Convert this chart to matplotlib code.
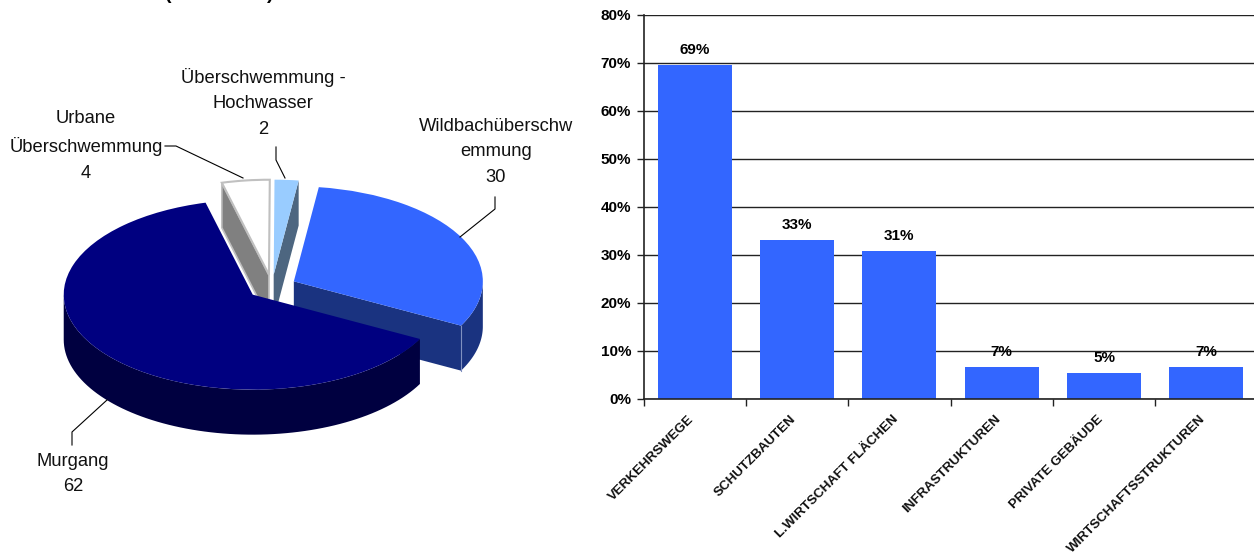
import numpy as np
import matplotlib
matplotlib.use('Agg')
import matplotlib.pyplot as plt
from matplotlib.patches import Wedge
from matplotlib.transforms import Affine2D

plt.rcParams['font.family'] = ['Liberation Sans', 'DejaVu Sans']

# pie data, drawn anticlockwise starting at the lower right
pie_labels = ['Wildbachüberschw\nemmung\n30', 'Überschwemmung -\nHochwasser\n2',
              'Urbane\nÜberschwemmung\n4', 'Murgang\n62']
pie_values = [30, 2, 4, 62]
pie_top = ['#3366FF', '#99CCFF', '#FFFFFF', '#000080']
pie_side = ['#1A3380', '#4D6680', '#808080', '#000040']

# bar data
bar_labels = ['VERKEHRSWEGE', 'SCHUTZBAUTEN', 'L.WIRTSCHAFT FLÄCHEN', 'INFRASTRUKTUREN',
              'PRIVATE GEBÄUDE', 'WIRTSCHAFTSSTRUKTUREN']
bar_values = [69.4, 33.0, 30.8, 6.6, 5.5, 6.6]
bar_text = ['69%', '33%', '31%', '7%', '5%', '7%']

W, H = 1254, 553
fig = plt.figure(figsize=(W / 100, H / 100), dpi=100)

# pie on a pixel canvas
ax = fig.add_axes([0, 0, 1, 1])
ax.set_xlim(0, W)
ax.set_ylim(H, 0)
ax.axis('off')

CX, CY = 272, 287
RX, RY = 189, 95
DEPTH = 45
EXPLODE = 0.13
START = -27.8


def rim(c, a):
    return c[0] + RX * np.cos(np.radians(a)), c[1] - RY * np.sin(np.radians(a))


def cut_face(c, a, color, edge='none'):
    x, y = rim(c, a)
    ax.fill([c[0], x, x, c[0]], [c[1], y, y + DEPTH, c[1] + DEPTH], color=color, ec=edge, lw=1.2)


def wall(c, a1, a2, color):
    t = np.linspace(a1, a2, 80)
    x, y = rim(c, t)
    ax.fill(np.r_[x, x[::-1]], np.r_[y, y[::-1] + DEPTH], color=color, lw=0)


def top(c, a1, a2, color, edge=None):
    tr = Affine2D().scale(RX, -RY).translate(c[0], c[1]) + ax.transData
    ax.add_patch(Wedge((0, 0), 1, a1, a2, transform=tr, fc=color,
                       ec=edge if edge else color, lw=1.5 if edge else 0))


angles = START + np.r_[0, np.cumsum(pie_values)] * 360 / sum(pie_values)
centers = []
for i in range(len(pie_values)):
    mid = (angles[i] + angles[i + 1]) / 2
    centers.append((CX + EXPLODE * RX * np.cos(np.radians(mid)), CY - EXPLODE * RY * np.sin(np.radians(mid))))

# back slices first, Murgang last because it sits in front
cut_face(centers[2], angles[3], pie_side[2], '#C0C0C0')
top(centers[2], angles[2], angles[3], pie_top[2], '#C0C0C0')
cut_face(centers[1], angles[1], pie_side[1])
top(centers[1], angles[1], angles[2], pie_top[1])
cut_face(centers[0], angles[0], pie_side[0])
wall(centers[0], angles[0], 0, pie_side[0])
x0, y0 = rim(centers[0], angles[0])
ax.plot([x0, x0], [y0, y0 + DEPTH], color='#8090C0', lw=0.8)
top(centers[0], angles[0], angles[1], pie_top[0])
wall(centers[3], 180, angles[4], pie_side[3])
top(centers[3], angles[3], angles[4], pie_top[3])

# leader lines
ax.plot([165, 176, 243], [146, 146, 178], color='k', lw=0.8)
ax.plot([276, 276, 285], [147, 160, 178], color='k', lw=0.8)
ax.plot([495, 495, 460], [197, 209, 237], color='k', lw=0.8)
ax.plot([72, 72, 107], [445, 432, 400], color='k', lw=0.8)

label_pos = [(496, 152), (263, 103), (86, 146), (73, 474)]
for s, (x, y) in zip(pie_labels, label_pos):
    ax.text(x, y, s, ha='center', va='center', fontsize=13.2, linespacing=1.68, color='#111111')

# what is left of the cut off title
ax.text(168, -1, '(', ha='center', va='baseline', fontsize=14, fontweight='bold')
ax.text(270, -1, ')', ha='center', va='baseline', fontsize=14, fontweight='bold')

# bars
L, R, T, B = 643.5, 1257.5, 14.5, 399
bx = fig.add_axes([L / W, 1 - B / H, (R - L) / W, (B - T) / H])
bx.patch.set_alpha(0)
pos = np.arange(len(bar_values))
bx.set_axisbelow(True)
bx.grid(axis='y', color='#222222', lw=1)
bx.bar(pos, bar_values, width=0.72, color='#3366FF')
bx.set_xlim(-0.5, 5.5)
bx.set_ylim(0, 80)
bx.set_yticks(range(0, 81, 10))
bx.set_yticklabels(['%d%%' % v for v in range(0, 81, 10)], fontsize=11, fontweight='bold')
bx.set_xticks(np.arange(-0.5, 6, 1), minor=False)
bx.set_xticklabels([])
bx.tick_params(axis='both', length=5, width=1, color='#222222', pad=4)
for s in ['top', 'right']:
    bx.spines[s].set_visible(False)
for s in ['left', 'bottom']:
    bx.spines[s].set_linewidth(1.2)
    bx.spines[s].set_color('#222222')
for p, v, t in zip(pos, bar_values, bar_text):
    bx.annotate(t, (p, v), xytext=(0, 8), textcoords='offset pixels', ha='center', va='bottom',
                fontsize=11, fontweight='bold')
for p, t in zip(pos, bar_labels):
    bx.annotate(t, (p, 0), xytext=(-7, -14), textcoords='offset pixels', ha='right', va='top',
                rotation=45, rotation_mode='anchor', fontsize=9.6, fontweight='bold',
                annotation_clip=False, color='#111111')

fig.savefig('out.png', dpi=100)
